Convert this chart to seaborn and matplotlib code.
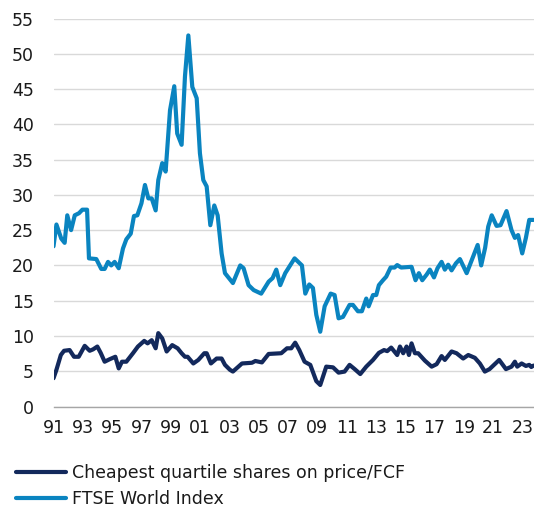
import matplotlib
matplotlib.use("Agg")
import matplotlib.pyplot as plt
import seaborn as sns
import pandas as pd

# ---- data ----
ftse_years = [1991.00, 1991.20, 1991.53, 1991.76, 1991.94, 1992.20, 1992.45, 1992.74, 1992.97,
              1993.29, 1993.42, 1993.92, 1994.26, 1994.49, 1994.72, 1994.94, 1995.17, 1995.45,
              1995.74, 1995.97, 1996.27, 1996.49, 1996.72, 1997.00, 1997.24, 1997.47, 1997.70,
              1997.97, 1998.15, 1998.42, 1998.65, 1998.95, 1999.24, 1999.44, 1999.74, 1999.97,
              2000.20, 2000.47, 2000.77, 2000.99, 2001.22, 2001.45, 2001.70, 2001.97, 2002.20,
              2002.47, 2002.70, 2003.24, 2003.74, 2003.97, 2004.31, 2004.66, 2005.17, 2005.68,
              2005.95, 2006.20, 2006.47, 2006.81, 2007.45, 2007.95, 2008.18, 2008.45, 2008.70,
              2008.93, 2009.20, 2009.50, 2009.91, 2010.18, 2010.45, 2010.75, 2011.20, 2011.43,
              2011.77, 2012.04, 2012.34, 2012.50, 2012.80, 2013.02, 2013.20, 2013.48, 2013.70,
              2014.00, 2014.27, 2014.45, 2014.72, 2015.43, 2015.70, 2015.93, 2016.16, 2016.46,
              2016.68, 2016.96, 2017.20, 2017.48, 2017.70, 2017.93, 2018.16, 2018.46, 2018.73,
              2019.19, 2019.64, 2019.94, 2020.18, 2020.45, 2020.66, 2020.90, 2021.23, 2021.50,
              2021.91, 2022.25, 2022.48, 2022.70, 2022.98, 2023.23, 2023.46, 2023.75]
ftse_values = [22.7, 25.8, 23.8, 23.2, 27.1, 25.0, 27.1, 27.4, 27.9,
               27.9, 21.0, 20.9, 19.5, 19.5, 20.5, 20.0, 20.5, 19.6,
               22.4, 23.7, 24.5, 27.0, 27.1, 28.8, 31.4, 29.5, 29.5,
               27.8, 32.1, 34.5, 33.3, 42.0, 45.4, 38.7, 37.1, 46.8,
               52.6, 45.3, 43.7, 35.9, 32.1, 31.2, 25.7, 28.5, 27.1,
               21.7, 18.9, 17.5, 20.0, 19.6, 17.2, 16.5, 16.0, 17.7,
               18.2, 19.4, 17.2, 18.9, 21.0, 20.0, 16.0, 17.3, 16.8,
               13.0, 10.6, 14.2, 16.0, 15.8, 12.5, 12.7, 14.4, 14.4,
               13.5, 13.5, 15.3, 14.2, 15.8, 15.8, 17.2, 17.9, 18.4,
               19.7, 19.7, 20.05, 19.7, 19.8, 17.9, 18.9, 17.9, 18.7,
               19.4, 18.3, 19.6, 20.5, 19.4, 20.1, 19.3, 20.3, 20.9,
               18.9, 21.3, 22.9, 20.0, 22.5, 25.5, 27.1, 25.6, 25.7,
               27.7, 25.0, 23.9, 24.3, 21.7, 23.9, 26.45, 26.45]

cheap_years = [1991.00, 1991.20, 1991.50, 1991.72, 1992.10, 1992.40, 1992.72, 1993.13, 1993.47,
               1993.70, 1993.99, 1994.22, 1994.49, 1994.83, 1995.22, 1995.45, 1995.67, 1995.97,
               1996.42, 1996.76, 1997.19, 1997.42, 1997.70, 1997.97, 1998.15, 1998.42, 1998.72,
               1999.10, 1999.47, 1999.74, 1999.97, 2000.15, 2000.54, 2000.88, 2001.29, 2001.45,
               2001.74, 2002.13, 2002.47, 2002.70, 2003.04, 2003.24, 2003.86, 2004.54, 2004.77,
               2005.22, 2005.68, 2006.54, 2006.93, 2007.22, 2007.49, 2007.77, 2008.13, 2008.52,
               2008.93, 2009.20, 2009.61, 2010.07, 2010.45, 2010.86, 2011.20, 2011.55, 2011.93,
               2012.34, 2012.80, 2013.20, 2013.55, 2013.77, 2014.04, 2014.45, 2014.64, 2014.86,
               2015.09, 2015.25, 2015.43, 2015.66, 2015.88, 2016.34, 2016.80, 2017.14, 2017.48,
               2017.70, 2018.16, 2018.50, 2018.95, 2019.30, 2019.75, 2020.09, 2020.43, 2020.75,
               2021.41, 2021.87, 2022.25, 2022.48, 2022.64, 2022.94, 2023.23, 2023.46, 2023.60,
               2023.75]
cheap_values = [4.0, 5.2, 7.3, 7.9, 8.0, 7.05, 7.05, 8.6, 7.9,
                8.1, 8.5, 7.6, 6.35, 6.7, 7.05, 5.4, 6.35, 6.35,
                7.55, 8.5, 9.3, 8.95, 9.4, 8.25, 10.4, 9.65, 7.8,
                8.7, 8.25, 7.55, 7.05, 7.05, 6.1, 6.6, 7.55, 7.55,
                6.1, 6.8, 6.8, 5.9, 5.2, 4.95, 6.1, 6.2, 6.45,
                6.25, 7.45, 7.55, 8.25, 8.25, 9.05, 8.0, 6.35, 5.9,
                3.6, 3.05, 5.65, 5.55, 4.8, 4.95, 5.9, 5.3, 4.6,
                5.65, 6.6, 7.6, 8.0, 7.85, 8.35, 7.3, 8.5, 7.55,
                8.5, 7.3, 8.95, 7.55, 7.55, 6.5, 5.65, 6.0, 7.15,
                6.6, 7.8, 7.55, 6.8, 7.3, 6.9, 6.1, 4.95, 5.3,
                6.6, 5.3, 5.65, 6.35, 5.65, 6.1, 5.75, 5.9, 5.6,
                5.8]

series_names = ["Cheapest quartile shares on price/FCF", "FTSE World Index"]
x_ticks = list(range(1991, 2024, 2))
x_tick_labels = [f"{y % 100:02d}" for y in x_ticks]
y_ticks = list(range(0, 60, 5))

df = pd.concat([
    pd.DataFrame({"year": cheap_years, "value": cheap_values, "series": series_names[0]}),
    pd.DataFrame({"year": ftse_years, "value": ftse_values, "series": series_names[1]}),
], ignore_index=True)

# ---- style ----
sns.set_theme(style="white")
plt.rcParams["font.family"] = ["DejaVu Sans"]

W, H = 534, 509
fig = plt.figure(figsize=(W / 100, H / 100), dpi=100)
ax = fig.add_axes([53.5 / W, (H - 406.5) / H, (533.5 - 53.5) / W, (406.5 - 18.5) / H])

palette = {series_names[0]: "#13295c", series_names[1]: "#0a84c0"}
sns.lineplot(data=df, x="year", y="value", hue="series", palette=palette,
             hue_order=series_names, estimator=None, sort=False, linewidth=3.0,
             ax=ax, legend=False, zorder=3)

ax.set_xlim(1991, 2023.75)
ax.set_ylim(0, 55)
ax.set_xticks(x_ticks)
ax.set_xticklabels(x_tick_labels)
ax.set_yticks(y_ticks)
ax.set_xlabel("")
ax.set_ylabel("")
ax.yaxis.grid(True, color="#d9d9d9", linewidth=1.0, zorder=0)
ax.xaxis.grid(False)
for s in ["top", "right", "left"]:
    ax.spines[s].set_visible(False)
ax.spines["bottom"].set_color("#a6a6a6")
ax.spines["bottom"].set_linewidth(1.0)
ax.tick_params(axis="y", length=0, pad=14, labelsize=12.5, labelcolor="#1a1a1a")
ax.tick_params(axis="x", length=0, pad=9, labelsize=12.5, labelcolor="#1a1a1a")

from matplotlib.lines import Line2D
handles = [Line2D([], [], color=palette[n], linewidth=3.0) for n in series_names]
fig.legend(handles, series_names, loc="upper left",
           bbox_to_anchor=(16 / W, 1 - 464 / H), frameon=False, fontsize=12.5,
           handlelength=2.9, handletextpad=0.3, labelspacing=0.45,
           borderpad=0, borderaxespad=0, labelcolor="#1a1a1a")

fig.savefig("out.png", dpi=100)
